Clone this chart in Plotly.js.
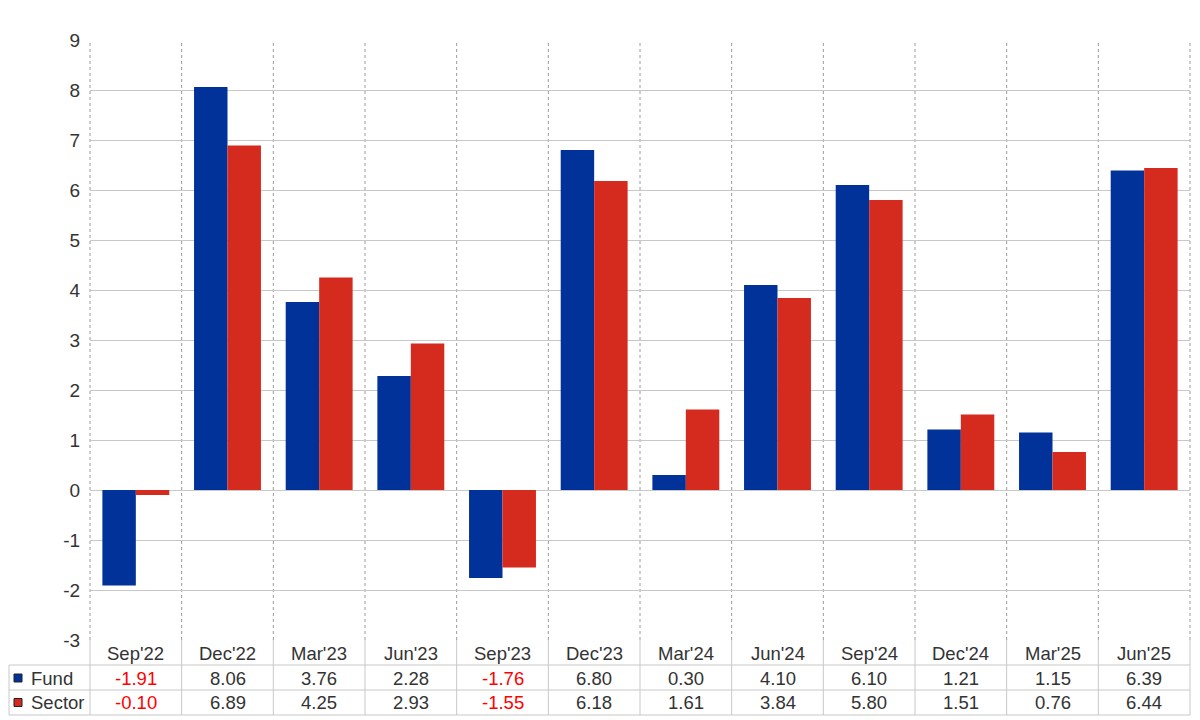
<!DOCTYPE html>
<html>
<head>
<meta charset="utf-8">
<script src="https://cdn.plot.ly/plotly-3.0.1.min.js"></script>
<style>html,body{margin:0;padding:0;background:#fff;}#chart{width:1200px;height:720px;}</style>
</head>
<body>
<div id="chart"></div>
<script>
const categories = ["Sep'22","Dec'22","Mar'23","Jun'23","Sep'23","Dec'23","Mar'24","Jun'24","Sep'24","Dec'24","Mar'25","Jun'25"];
const fundValues = [-1.91, 8.06, 3.76, 2.28, -1.76, 6.80, 0.30, 4.10, 6.10, 1.21, 1.15, 6.39];
const sectorValues = [-0.10, 6.89, 4.25, 2.93, -1.55, 6.18, 1.61, 3.84, 5.80, 1.51, 0.76, 6.44];
const seriesNames = ["Fund", "Sector"];
const seriesColors = ["#003299", "#d52b1e"];
const yTicks = [-3,-2,-1,0,1,2,3,4,5,6,7,8,9];

const W = 1200, H = 720;
const mL = 90, mR = 10, mT = 40, mB = 80;
const plotW = W - mL - mR, plotH = H - mT - mB;
const py = y => (H - mB - y) / plotH;       // pixel y -> paper y
const px = x => (x - mL) / plotW;           // pixel x -> paper x

const font = "Liberation Sans, Arial, sans-serif";
const textColor = "#333333";
const gridColor = "#c8c8c8";
const fs = 18.5;

const idx = categories.map((c, i) => i);
const traces = [fundValues, sectorValues].map((vals, s) => ({
  type: "bar",
  x: idx,
  y: vals,
  name: seriesNames[s],
  marker: {color: seriesColors[s], line: {width: 0}},
  hoverinfo: "skip"
}));

const shapes = [];
const n = categories.length;
for (let k = 0; k <= n; k++) {
  shapes.push({type: "line", xref: "paper", yref: "paper", x0: k / n, x1: k / n, y0: 0, y1: 1,
    line: {color: "#9a9a9a", width: 1, dash: "dot"}, layer: "below"});
}
const rowLines = [665, 690, 715];
rowLines.forEach(y => {
  shapes.push({type: "line", xref: "paper", yref: "paper", x0: px(9), x1: 1, y0: py(y), y1: py(y),
    line: {color: gridColor, width: 1}});
});
for (let k = 0; k <= n; k++) {
  shapes.push({type: "line", xref: "paper", yref: "paper", x0: k / n, x1: k / n, y0: 0, y1: py(715),
    line: {color: gridColor, width: 1}});
}
shapes.push({type: "line", xref: "paper", yref: "paper", x0: px(9), x1: px(9), y0: py(665), y1: py(715),
  line: {color: gridColor, width: 1}});
const rowCenters = [678, 702.5];
rowCenters.forEach((yc, s) => {
  shapes.push({type: "rect", xref: "paper", yref: "paper", x0: px(14), x1: px(22), y0: py(yc - 4), y1: py(yc + 4),
    fillcolor: seriesColors[s], line: {color: "#222222", width: 1}});
});

const annotations = [];
categories.forEach((c, i) => {
  annotations.push({xref: "x", yref: "paper", x: i, y: py(653), text: c, showarrow: false,
    xanchor: "center", yanchor: "middle", font: {family: font, size: fs, color: textColor}});
});
[fundValues, sectorValues].forEach((vals, s) => {
  vals.forEach((v, i) => {
    annotations.push({xref: "x", yref: "paper", x: i, y: py(rowCenters[s]), text: v.toFixed(2), showarrow: false,
      xanchor: "center", yanchor: "middle", font: {family: font, size: fs, color: v < 0 ? "#ff0000" : textColor}});
  });
  annotations.push({xref: "paper", yref: "paper", x: px(29), y: py(rowCenters[s]), text: seriesNames[s], showarrow: false,
    xanchor: "left", yanchor: "middle", font: {family: font, size: fs, color: textColor}});
});

const layout = {
  width: W, height: H,
  margin: {l: mL, r: mR, t: mT, b: mB, pad: 0},
  paper_bgcolor: "#ffffff", plot_bgcolor: "#ffffff",
  showlegend: false,
  barmode: "group", bargap: 0.27, bargroupgap: 0,
  font: {family: font, size: fs, color: textColor},
  xaxis: {range: [-0.5, n - 0.5], showgrid: false, zeroline: false, showline: false,
    showticklabels: false, ticks: "", fixedrange: true},
  yaxis: {range: [-3, 9], tickvals: yTicks, ticktext: yTicks.map(String), showgrid: true, gridcolor: gridColor, gridwidth: 1,
    zeroline: false, showline: false, ticks: "outside", ticklen: 5, tickcolor: "rgba(0,0,0,0)",
    tickfont: {family: font, size: 19, color: textColor}, fixedrange: true},
  shapes: shapes,
  annotations: annotations
};

Plotly.newPlot("chart", traces, layout, {displayModeBar: false, staticPlot: true});
</script>
</body>
</html>
